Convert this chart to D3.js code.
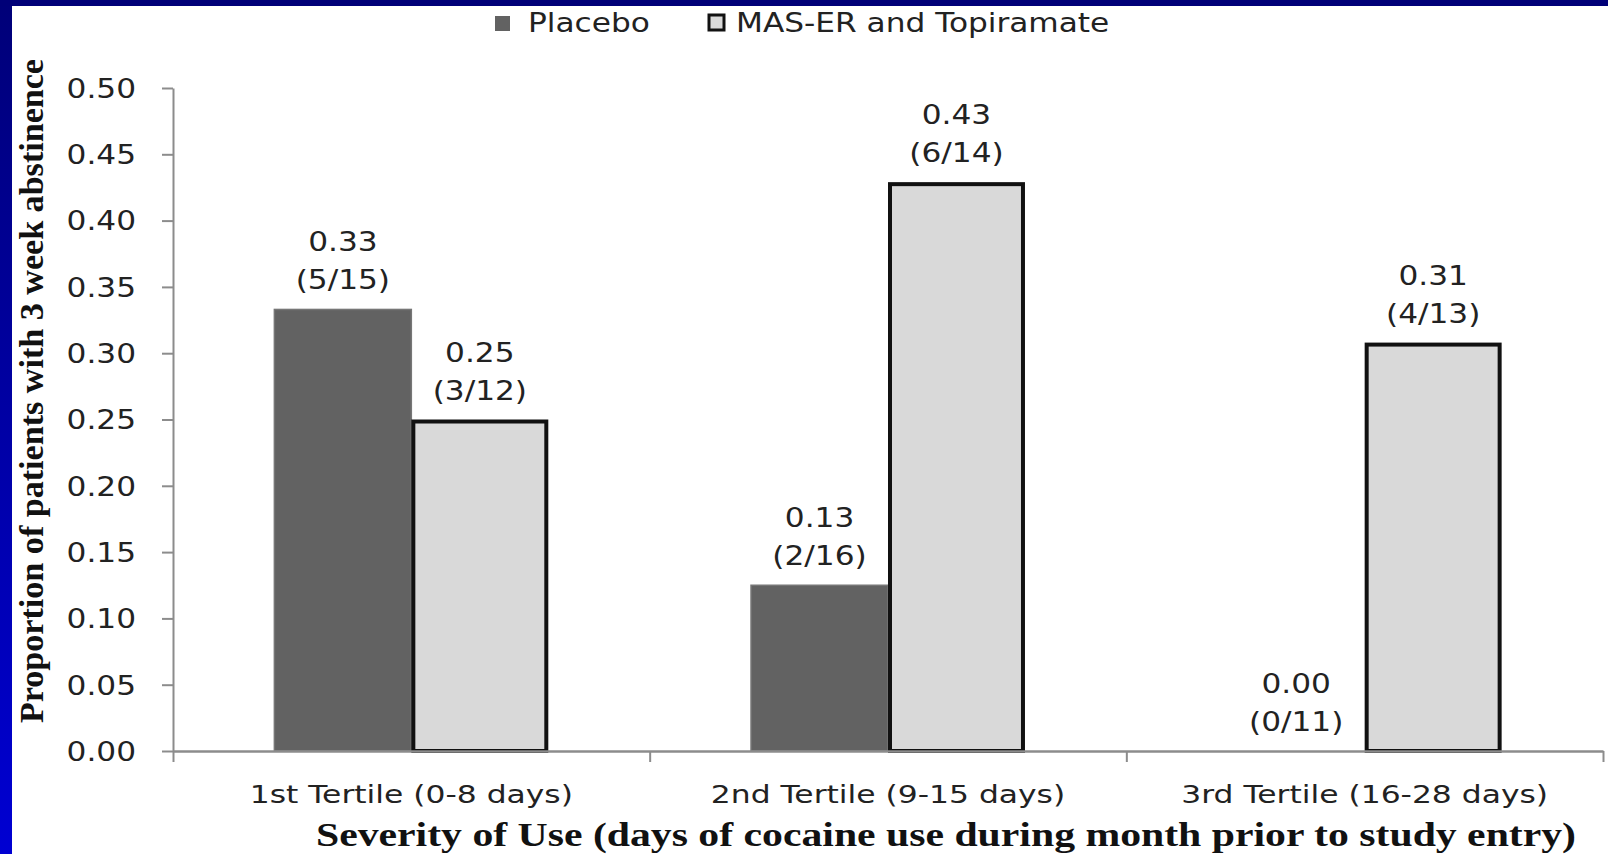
<!DOCTYPE html>
<html>
<head>
<meta charset="utf-8">
<script src="https://cdn.jsdelivr.net/npm/d3@7"></script>
<style>
  html, body { margin: 0; padding: 0; background: #ffffff; }
  svg { display: block; }
</style>
</head>
<body>
<svg id="chart" width="1608" height="854"></svg>
<script>
// ---- data ----
const categories = ["1st Tertile (0-8 days)", "2nd Tertile (9-15 days)", "3rd Tertile (16-28 days)"];
const seriesNames = ["Placebo", "MAS-ER and Topiramate"];
const placeboValues = [0.333, 0.125, 0.00];
const masValues = [0.25, 0.429, 0.308];
const placeboValueLabels = ["0.33", "0.13", "0.00"];
const placeboCountLabels = ["(5/15)", "(2/16)", "(0/11)"];
const masValueLabels = ["0.25", "0.43", "0.31"];
const masCountLabels = ["(3/12)", "(6/14)", "(4/13)"];
const yTickValues = [0, 0.05, 0.10, 0.15, 0.20, 0.25, 0.30, 0.35, 0.40, 0.45, 0.50];
const yTitle = "Proportion of patients with 3 week abstinence";
const xTitle = "Severity of Use (days of cocaine use during month prior to study entry)";

// ---- layout ----
const W = 1608, H = 854;
const plot = { left: 173, right: 1603, top: 88, bottom: 751 };
const SX = 1.2; // horizontal glyph stretch of the original picture
const sans = "'DejaVu Sans', Verdana, sans-serif";
const serif = "'Liberation Serif', 'Times New Roman', serif";
const textColor = "#222";
const axisColor = "#8c8c8c";
const colors = { "Placebo": "#626262", "MAS-ER and Topiramate": "#d9d9d9" };

const svg = d3.select("#chart");

// frame (blue slide border)
const defs = svg.append("defs");
const grad = defs.append("linearGradient").attr("id", "leftBar")
  .attr("x1", 0).attr("y1", 0).attr("x2", 0).attr("y2", 1);
grad.append("stop").attr("offset", "0%").attr("stop-color", "#000078");
grad.append("stop").attr("offset", "100%").attr("stop-color", "#0000d2");
svg.append("rect").attr("x", 0).attr("y", 0).attr("width", W).attr("height", H).attr("fill", "#fff");
svg.append("rect").attr("x", 0).attr("y", 0).attr("width", 12).attr("height", H).attr("fill", "url(#leftBar)");
svg.append("rect").attr("x", 0).attr("y", 0).attr("width", W).attr("height", 6).attr("fill", "#000078");

// scales
const x = d3.scaleBand().domain(categories).range([plot.left, plot.right]).paddingInner(0).paddingOuter(0);
const x1 = d3.scaleBand().domain(seriesNames).range([0, x.bandwidth()]).paddingInner(0).paddingOuter(0.74);
const y = d3.scaleLinear().domain([0, 0.5]).range([plot.bottom, plot.top]);

const rows = categories.map((c, i) => ({
  cat: c,
  items: [
    { s: seriesNames[0], v: placeboValues[i], l1: placeboValueLabels[i], l2: placeboCountLabels[i] },
    { s: seriesNames[1], v: masValues[i], l1: masValueLabels[i], l2: masCountLabels[i] }
  ]
}));

// bars
const groups = svg.append("g").selectAll("g").data(rows).join("g")
  .attr("transform", d => `translate(${x(d.cat)},0)`);

groups.selectAll("rect").data(d => d.items.filter(it => it.v > 0)).join("rect")
  .attr("x", d => x1(d.s) + (d.s === seriesNames[1] ? 2 : 0))
  .attr("width", d => x1.bandwidth() - (d.s === seriesNames[1] ? 4 : 0))
  .attr("y", d => y(d.v) + (d.s === seriesNames[1] ? 2 : 0))
  .attr("height", d => y(0) - y(d.v) - (d.s === seriesNames[1] ? 2 : 0))
  .attr("fill", d => colors[d.s])
  .attr("stroke", d => d.s === seriesNames[1] ? "#111" : "#767676")
  .attr("stroke-width", d => d.s === seriesNames[1] ? 4 : 1.5);

// value labels
function stretchedText(sel, xFn, yFn) {
  sel.attr("transform", (d, i) => `translate(${xFn(d, i)},${yFn(d, i)}) scale(${SX},1)`);
}
const lab = groups.selectAll("g.lab").data(d => d.items).join("g").attr("class", "lab");
lab.append("text")
  .attr("text-anchor", "middle").attr("font-family", sans).attr("font-size", 26).attr("fill", textColor)
  .text(d => d.l1)
  .call(stretchedText, d => x1(d.s) + x1.bandwidth() / 2, d => y(d.v) - 58);
lab.append("text")
  .attr("text-anchor", "middle").attr("font-family", sans).attr("font-size", 26).attr("fill", textColor)
  .text(d => d.l2)
  .call(stretchedText, d => x1(d.s) + x1.bandwidth() / 2, d => y(d.v) - 20);

// y axis
const yAxis = svg.append("g").attr("transform", `translate(${plot.left},0)`)
  .call(d3.axisLeft(y).tickValues(yTickValues).tickFormat(d3.format(".2f")).tickSize(11).tickSizeOuter(0));
yAxis.select(".domain").attr("stroke", axisColor).attr("stroke-width", 2);
yAxis.selectAll(".tick line").attr("stroke", axisColor).attr("stroke-width", 2);
yAxis.selectAll(".tick text")
  .attr("x", null).attr("dy", "0.36em")
  .attr("transform", `translate(-37,0) scale(${SX},1)`)
  .attr("font-family", sans).attr("font-size", 26).attr("fill", textColor);

// x axis: boundary ticks
const xb = d3.scaleLinear().domain([0, categories.length]).range([plot.left, plot.right]);
const xAxisTicks = svg.append("g").attr("transform", `translate(0,${plot.bottom})`)
  .call(d3.axisBottom(xb).tickValues(d3.range(categories.length + 1)).tickFormat("").tickSize(11).tickSizeOuter(0));
xAxisTicks.select(".domain").attr("stroke", axisColor).attr("stroke-width", 2.5);
xAxisTicks.selectAll(".tick line").attr("stroke", axisColor).attr("stroke-width", 2);

// x axis: category labels
const xAxisLabels = svg.append("g").attr("transform", `translate(0,${plot.bottom})`)
  .call(d3.axisBottom(x).tickSize(0));
xAxisLabels.select(".domain").remove();
xAxisLabels.selectAll(".tick text")
  .attr("y", null).attr("dy", null)
  .attr("transform", `translate(0,52) scale(1.23,1)`)
  .attr("font-family", sans).attr("font-size", 25.5).attr("fill", textColor);

// axis titles
svg.append("text")
  .attr("x", 946).attr("y", 846)
  .attr("text-anchor", "middle")
  .attr("font-family", serif).attr("font-weight", "bold").attr("font-size", 33).attr("fill", "#111")
  .attr("textLength", 1260).attr("lengthAdjust", "spacingAndGlyphs")
  .text(xTitle);

svg.append("text")
  .attr("transform", `translate(43,391) rotate(-90)`)
  .attr("text-anchor", "middle")
  .attr("font-family", serif).attr("font-weight", "bold").attr("font-size", 34).attr("fill", "#111")
  .attr("textLength", 664).attr("lengthAdjust", "spacingAndGlyphs")
  .text(yTitle);

// legend
const legend = svg.append("g");
const legendItems = [
  { s: seriesNames[0], sq: 495, tx: 528 },
  { s: seriesNames[1], sq: 709, tx: 736 }
];
legendItems.forEach(it => {
  const isMas = it.s === seriesNames[1];
  legend.append("rect")
    .attr("x", it.sq).attr("y", isMas ? 15 : 16).attr("width", 15).attr("height", 15)
    .attr("fill", colors[it.s])
    .attr("stroke", isMas ? "#111" : "none").attr("stroke-width", isMas ? 3 : 0);
  legend.append("text")
    .attr("transform", `translate(${it.tx},32) scale(${SX},1)`)
    .attr("font-family", sans).attr("font-size", 26).attr("fill", textColor)
    .text(it.s);
});
</script>
</body>
</html>
